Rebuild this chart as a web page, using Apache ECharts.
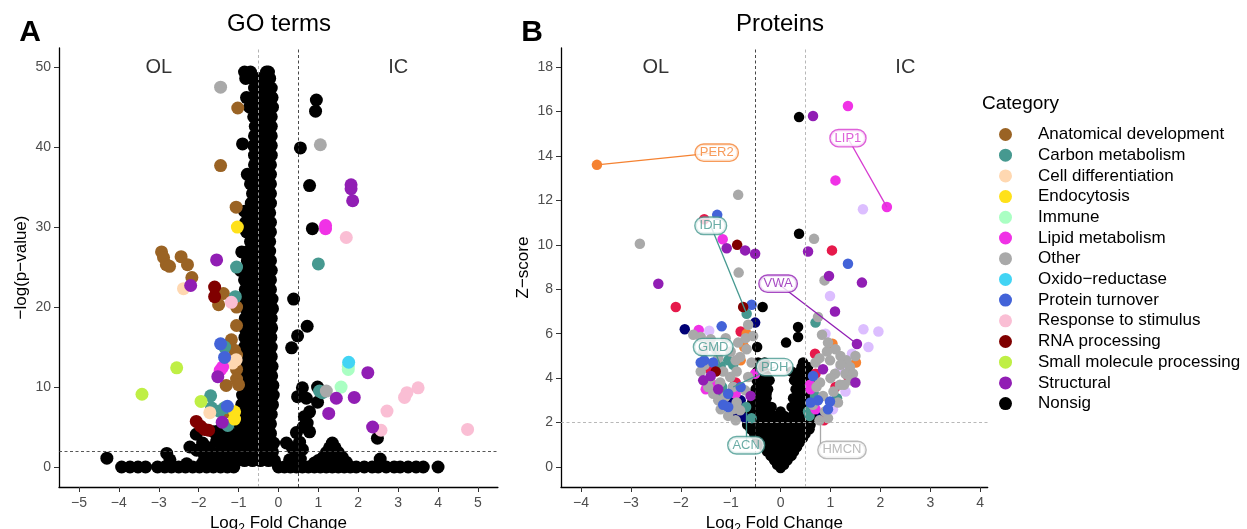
<!DOCTYPE html>
<html>
<head>
<meta charset="utf-8">
<title>GO terms and proteins volcano plots</title>
<script src="https://cdn.jsdelivr.net/npm/echarts@6/dist/echarts.min.js"></script>
<style>
  html, body { margin: 0; padding: 0; background: #fff; }
  #chart { width: 1247px; height: 529px; }
</style>
</head>
<body>
<div id="chart"></div>
<script>
const FONT = '"Liberation Sans", Arial, sans-serif'
const MINUS = '\u2212'

const categories = [
  'Anatomical development', 'Carbon metabolism', 'Cell differentiation', 'Endocytosis',
  'Immune', 'Lipid metabolism', 'Other', 'Oxido' + MINUS + 'reductase', 'Protein turnover',
  'Response to stimulus', 'RNA processing', 'Small molecule processing', 'Structural', 'Nonsig',
]
const categoryColors = [
  '#9a6324', '#469990', '#ffd8b1', '#ffe119', '#aaffc3', '#f032e6', '#a9a9a9',
  '#42d4f4', '#4363d8', '#fabed4', '#800000', '#bfef45', '#911eb4', '#000000',
]
// groups that only occur in the protein panel (not listed in the legend)
const extraNames = ['Navy', 'Red', 'Orange', 'Lavender']
const extraColors = ['#000075', '#e6194b', '#f58231', '#dcbeff']

const goTicksX = [-5, -4, -3, -2, -1, 0, 1, 2, 3, 4, 5]
const goTicksY = [0, 10, 20, 30, 40, 50]
const protTicksX = [-4, -3, -2, -1, 0, 1, 2, 3, 4]
const protTicksY = [0, 2, 4, 6, 8, 10, 12, 14, 16, 18]

// ---- panel A: GO terms, [log2FC, -log(p)] ----
const goNonsig = [
  [-1.05,0.8],[-0.85,0.8],[-0.65,0.8],[-0.45,0.8],[-0.25,0.8],[-0.1,0.8],
  [-1.1,1.9],[-0.9,1.9],[-0.7,1.9],[-0.5,1.9],[-0.3,1.9],[-0.15,1.9],
  [-1.05,3.0],[-0.85,3.0],[-0.65,3.0],[-0.45,3.0],[-0.25,3.0],[-0.12,3.0],
  [-1.0,4.2],[-0.8,4.2],[-0.6,4.2],[-0.4,4.2],[-0.2,4.2],
  [-0.98,5.4],[-0.78,5.4],[-0.58,5.4],[-0.38,5.4],[-0.2,5.4],
  [-0.95,6.6],[-0.75,6.6],[-0.55,6.6],[-0.35,6.6],[-0.18,6.6],
  [-0.92,7.8],[-0.72,7.8],[-0.52,7.8],[-0.32,7.8],[-0.15,7.8],
  [-0.9,9.0],[-0.7,9.0],[-0.5,9.0],[-0.3,9.0],[-0.13,9.0],
  [-0.92,10.2],[-0.72,10.2],[-0.52,10.2],[-0.32,10.2],[-0.14,10.2],
  [-0.88,11.4],[-0.68,11.4],[-0.48,11.4],[-0.3,11.4],[-0.17,11.4],
  [-0.85,12.6],[-0.66,12.6],[-0.46,12.6],[-0.28,12.6],[-0.16,12.6],
  [-0.86,13.8],[-0.68,13.8],[-0.5,13.8],[-0.32,13.8],[-0.18,13.8],
  [-0.85,15.0],[-0.66,15.0],[-0.46,15.0],[-0.28,15.0],[-0.18,15.0],
  [-0.84,16.2],[-0.65,16.2],[-0.45,16.2],[-0.27,16.2],[-0.19,16.2],
  [-0.85,17.4],[-0.66,17.4],[-0.47,17.4],[-0.29,17.4],[-0.17,17.4],
  [-0.83,18.6],[-0.64,18.6],[-0.45,18.6],[-0.27,18.6],[-0.18,18.6],
  [-0.82,19.8],[-0.63,19.8],[-0.44,19.8],[-0.26,19.8],[-0.15,19.8],
  [-0.84,21.0],[-0.65,21.0],[-0.46,21.0],[-0.28,21.0],[-0.16,21.0],
  [-0.83,22.2],[-0.64,22.2],[-0.45,22.2],[-0.27,22.2],[-0.2,22.2],
  [-0.85,23.4],[-0.66,23.4],[-0.47,23.4],[-0.29,23.4],[-0.2,23.4],
  [-0.82,24.6],[-0.63,24.6],[-0.44,24.6],[-0.26,24.6],[-0.18,24.6],
  [-0.78,25.8],[-0.6,25.8],[-0.42,25.8],[-0.25,25.8],[-0.2,25.8],
  [-0.75,27.0],[-0.58,27.0],[-0.4,27.0],[-0.22,27.0],
  [-0.7,28.2],[-0.52,28.2],[-0.36,28.2],[-0.22,28.2],
  [-0.8,29.4],[-0.62,29.4],[-0.45,29.4],[-0.28,29.4],[-0.2,29.4],
  [-0.82,30.6],[-0.64,30.6],[-0.46,30.6],[-0.3,30.6],[-0.2,30.6],
  [-0.72,31.8],[-0.55,31.8],[-0.38,31.8],[-0.22,31.8],
  [-0.68,33.0],[-0.5,33.0],[-0.33,33.0],[-0.2,33.0],
  [-0.65,34.2],[-0.48,34.2],[-0.32,34.2],[-0.2,34.2],
  [-0.7,35.4],[-0.52,35.4],[-0.36,35.4],[-0.2,35.4],
  [-0.62,36.6],[-0.45,36.6],[-0.3,36.6],[-0.2,36.6],
  [-0.6,37.8],[-0.44,37.8],[-0.3,37.8],[-0.2,37.8],
  [-0.6,39.0],[-0.45,39.0],[-0.3,39.0],[-0.18,39.0],
  [-0.62,40.2],[-0.46,40.2],[-0.3,40.2],[-0.18,40.2],
  [-0.6,41.4],[-0.44,41.4],[-0.28,41.4],[-0.18,41.4],
  [-0.58,42.6],[-0.42,42.6],[-0.28,42.6],[-0.18,42.6],
  [-0.62,43.8],[-0.46,43.8],[-0.3,43.8],[-0.18,43.8],
  [-0.72,45.0],[-0.55,45.0],[-0.38,45.0],[-0.22,45.0],[-0.15,45.0],
  [-0.8,46.2],[-0.62,46.2],[-0.45,46.2],[-0.28,46.2],[-0.16,46.2],
  [-0.6,47.4],[-0.45,47.4],[-0.28,47.4],[-0.18,47.4],
  [-0.82,48.6],[-0.66,48.6],[-0.5,48.6],[-0.32,48.6],[-0.22,48.6],
  [-0.85,49.4],[-0.7,49.4],[-0.3,49.4],[-0.25,49.4],
  [-0.9,40.4],[-0.78,36.6],[-0.85,32.0],[-0.92,26.9],[-0.95,24.6],
  // zero row and low fan, left
  [-4.3,1.1],[-3.93,0],[-3.72,0],[-3.52,0],[-3.33,0],
  [-3.03,0],[-2.85,0],[-2.68,0],[-2.5,0],[-2.33,0],[-2.15,0],[-1.98,0],[-1.8,0],
  [-1.63,0],[-1.45,0],[-1.28,0],[-1.12,0],
  [-2.8,1.7],[-2.72,0.9],[-2.22,2.5],[-2.05,2.1],[-2.06,4.1],[-1.9,3.0],[-1.75,2.4],
  [-1.62,4.4],[-1.48,4.6],[-1.4,3.9],[-1.55,3.2],[-1.35,2.8],[-1.2,3.6],[-1.25,4.6],
  [-1.85,1.3],[-1.65,1.0],[-1.5,1.8],[-1.3,1.4],[-1.15,2.2],[-1.6,0.6],[-1.4,0.7],
  [-1.2,0.8],[-1.9,0.5],[-2.3,0.4],
  // right side
  [0.0,0],[0.15,0],[0.3,0],[0.45,0],[0.6,0],[0.75,0],[0.9,0],[1.05,0],[1.2,0],[1.35,0],
  [1.5,0],[1.65,0],[1.8,0],[1.95,0],[2.15,0],[2.35,0],[2.5,0],[2.7,0],[2.9,0],[3.05,0],
  [3.25,0],[3.45,0],[3.63,0],[4.0,0],
  [0.55,39.9],[0.95,45.9],[0.93,44.5],[0.78,35.2],[0.85,29.8],[0.38,21.0],[0.72,17.6],
  [0.48,16.4],[0.33,14.9],
  [0.6,9.9],[0.48,8.8],[0.7,8.6],[0.78,6.9],[0.65,6.3],[0.72,5.5],[0.45,4.3],[0.78,4.4],
  [0.2,3.0],[0.35,2.4],[0.53,3.1],[0.45,1.5],[0.28,0.9],[0.55,1.0],[0.6,2.2],[0.62,5.0],
  [0.98,10.0],[0.98,8.1],
  [1.35,3.0],[1.28,2.4],[1.42,2.4],[1.2,1.8],[1.5,1.8],[1.12,1.2],[1.35,1.4],[1.6,1.2],
  [1.0,0.8],[1.25,0.7],[1.5,0.7],[1.7,0.6],[0.9,0.5],
  [2.48,3.6],[2.55,1.0],
]
const goAnatomical = [
  [-1.02,44.9],[-1.45,37.7],[-1.06,32.5],[-2.93,26.9],[-2.88,26.2],[-2.44,26.3],
  [-2.81,25.3],[-2.73,25.1],[-2.28,25.3],[-2.17,23.7],[-1.38,21.7],[-1.5,20.3],
  [-1.05,20.0],[-1.05,17.7],[-1.18,15.9],[-1.1,14.6],[-1.05,14.0],[-1.05,12.2],
  [-1.05,11.0],[-1.0,10.3],[-1.31,10.2],[-1.31,6.9],
]
const goCarbon = [
  [-1.05,25.0],[1.0,25.4],[-1.08,21.3],[-1.35,15.0],[-1.7,8.9],[-1.68,7.4],
  [-1.48,7.0],[-1.35,7.4],[-1.27,5.2],[1.03,9.5],[1.1,9.3],
]
const goCellDiff = [[-2.38,22.3],[-1.06,13.4],[-1.15,13.0],[-1.72,6.8]]
const goEndocytosis = [[-1.03,30.0],[-1.1,6.9],[-1.1,6.0]]
const goImmune = [[1.75,12.6],[1.75,12.2],[1.57,10.0]]
const goLipid = [[1.18,29.8],[1.18,30.2],[-1.4,12.5],[-1.46,12.1]]
const goOther = [[-1.45,47.5],[1.05,40.3],[1.2,9.5]]
const goOxido = [[1.76,13.1]]
const goProtein = [[-1.45,15.4],[-1.35,13.7],[-1.28,7.6]]
const goResponse = [
  [-1.18,20.6],[1.7,28.7],[2.57,4.6],[2.72,7.0],[3.16,8.7],[3.22,9.3],[3.5,9.9],[4.74,4.7],
]
const goRNA = [[-1.6,22.5],[-1.6,21.3],[-2.06,5.7],[-1.95,5.1],[-1.85,4.7],[-1.75,4.6]]
const goSmallMol = [[-2.55,12.4],[-3.42,9.1],[-1.94,8.2]]
const goStructural = [
  [1.82,35.3],[1.82,34.8],[1.86,33.3],[-1.55,25.9],[-2.2,22.7],[-1.52,11.3],[-1.41,5.6],
  [2.24,11.8],[1.45,8.6],[1.9,8.7],[1.26,6.7],[2.36,5.0],
]

// ---- panel B: proteins, [log2FC, Z-score] ----
const protNonsig = [
  [0,-0.05],[-0.07,0.1],[0.07,0.1],
  [-0.13,0.3],[0.0,0.3],[0.14,0.3],
  [-0.2,0.5],[-0.05,0.5],[0.1,0.5],[0.22,0.5],
  [-0.27,0.7],[-0.12,0.7],[0.03,0.7],[0.16,0.7],[0.27,0.7],
  [-0.33,0.9],[-0.18,0.9],[-0.03,0.9],[0.12,0.9],[0.25,0.9],[0.33,0.9],
  [-0.4,1.1],[-0.25,1.1],[-0.1,1.1],[0.05,1.1],[0.2,1.1],[0.38,1.1],
  [-0.47,1.3],[-0.32,1.3],[-0.16,1.3],[0.0,1.3],[0.15,1.3],[0.32,1.3],[0.45,1.3],
  [-0.53,1.5],[-0.38,1.5],[-0.22,1.5],[-0.06,1.5],[0.1,1.5],[0.26,1.5],[0.42,1.5],[0.5,1.5],
  [-0.6,1.7],[-0.44,1.7],[-0.28,1.7],[-0.12,1.7],[0.04,1.7],[0.2,1.7],[0.36,1.7],[0.52,1.7],[0.58,1.7],
  [-0.67,1.9],[-0.5,1.9],[-0.34,1.9],[-0.18,1.9],[-0.02,1.9],[0.14,1.9],[0.3,1.9],[0.46,1.9],[0.6,1.9],
  [-0.68,2.1],[-0.52,2.1],[-0.36,2.1],[-0.2,2.1],[-0.04,2.1],[0.12,2.1],[0.28,2.1],[0.44,2.1],[0.6,2.1],
  [-0.7,2.3],[-0.55,2.3],[-0.4,2.3],[-0.25,2.3],[-0.1,2.3],[0.08,2.3],[0.24,2.3],[0.4,2.3],[0.55,2.3],[0.66,2.3],
  [-0.65,2.5],[-0.5,2.5],[-0.36,2.5],[-0.22,2.5],[0.0,2.5],[0.28,2.5],[0.44,2.5],[0.6,2.5],
  [-0.6,2.7],[-0.45,2.7],[-0.3,2.7],[-0.18,2.7],[0.22,2.7],[0.36,2.7],[0.52,2.7],[0.66,2.7],
  [-0.57,2.9],[-0.42,2.9],[-0.3,2.9],[0.3,2.9],[0.46,2.9],[0.62,2.9],
  [-0.55,3.1],[-0.42,3.1],[-0.28,3.1],[0.25,3.1],[0.4,3.1],[0.56,3.1],
  [-0.52,3.3],[-0.38,3.3],[-0.28,3.3],[0.34,3.3],[0.5,3.3],
  [-0.5,3.5],[-0.38,3.5],[-0.25,3.5],[0.3,3.5],[0.45,3.5],[0.6,3.5],
  [-0.45,3.7],[-0.32,3.7],[0.36,3.7],[0.5,3.7],
  [-0.48,3.9],[-0.35,3.9],[-0.22,3.9],[0.27,3.9],[0.42,3.9],[0.58,3.9],
  [-0.44,4.1],[-0.28,4.1],[0.32,4.1],[0.46,4.1],
  [-0.47,4.3],[-0.33,4.3],[0.22,4.3],[0.38,4.3],[0.52,4.3],
  [-0.4,4.5],[0.42,4.5],[0.55,4.5],
  [-0.45,4.7],[-0.32,4.7],[0.45,4.7],
  [-0.47,5.4],[0.11,5.6],[0.35,6.3],[0.35,5.85],[-0.36,7.2],[0.37,10.5],[0.37,15.75],
]
const protStructural = [
  [0.65,15.8],[-1.08,9.85],[-0.71,9.75],[-0.51,9.6],[0.55,9.7],[0.97,8.6],[1.63,8.3],
  [1.09,7.0],[-2.45,8.25],[1.53,5.54],[-1.4,4.1],[0.85,4.4],[-1.55,3.9],[-1.25,3.5],
  [-0.6,3.2],[1.5,3.8],
]
const protLipid = [
  [1.35,16.25],[1.1,12.9],[2.13,11.7],[-1.16,10.25],[-1.64,6.17],[-0.51,4.2],[0.59,3.7],
  [0.6,3.5],[-1.35,3.7],[-1.5,3.5],[-0.9,3.3],[0.7,2.6],
]
const protOther = [
  [-0.85,12.25],[-2.82,10.05],[0.67,10.27],[0.88,8.4],[-0.84,8.75],[0.75,6.75],[0.83,5.95],
  [-1.75,5.95],[-1.6,5.85],[-1.4,5.75],[-1.1,5.8],[-0.65,6.4],
  [0.93,5.2],[0.99,4.8],[1.09,4.2],[1.32,4.8],[1.39,4.5],[0.79,3.8],[0.85,3.2],[1.06,3.4],
  [1.19,3.7],[1.27,3.7],[0.89,2.5],[1.2,5.0],[1.0,4.0],
  [1.2,4.6],[1.3,4.2],[1.45,4.2],[0.7,4.7],[0.78,4.9],[0.72,3.6],[1.15,2.9],[0.95,2.2],
  [0.65,2.8],[1.4,3.9],[1.1,5.3],[0.95,5.6],[1.5,5.0],
  [-1.52,4.6],[-1.41,4.0],[-1.21,3.8],[-1.01,4.05],[-0.88,4.3],[-0.81,4.95],[-0.68,5.3],
  [-0.58,4.7],[-0.65,4.05],[-0.71,3.45],[-0.95,3.6],[-1.11,3.15],[-0.88,2.9],[-0.81,2.55],
  [-1.25,3.0],[-0.95,2.6],[0.78,2.1],
  [-1.45,5.5],[-1.3,5.3],[-1.55,5.2],[-1.25,4.9],[-1.6,4.3],[-1.45,3.6],[-1.35,3.3],
  [-1.2,2.6],[-1.05,2.3],[-0.9,2.1],[-1.15,4.3],[-0.9,4.8],[-1.0,5.2],[-0.85,5.6],
  [-0.7,5.8],[-0.55,5.9],
]
const protCarbon = [
  [-0.68,6.9],[-1.2,4.55],[-0.95,3.6],[-0.69,2.7],[0.7,6.5],[-1.17,3.6],[-1.1,3.2],
  [-0.58,2.2],[0.69,3.2],[1.13,3.1],[0.55,2.5],[-1.05,4.8],[-0.95,4.6],[0.58,2.3],[-1.3,3.3],
  [0.6,2.6],
]
const protProtein = [
  [-1.27,11.35],[1.35,9.15],[-1.18,6.33],[-0.58,7.3],[-1.53,4.8],[0.99,2.95],[-1.05,2.7],
  [-0.8,3.6],[0.65,4.1],[-1.35,4.7],[-1.6,4.7],[-1.05,3.3],[-1.15,2.8],[0.75,3.0],
  [0.95,2.6],[0.6,2.9],
]
const protRNA = [[-0.87,10.0],[-0.75,7.2],[-1.3,4.3]]
const protNavy = [
  [-1.92,6.2],[-0.51,6.5],[-0.98,3.1],[-0.8,3.0],[-0.8,2.3],[0.82,2.25],[-0.9,2.5],
  [-1.1,2.9],[-0.7,2.2],[-0.95,2.4],
]
const protRed = [
  [-1.53,11.15],[1.03,9.75],[-2.1,7.2],[-0.8,6.1],[0.69,5.1],[1.35,4.1],[0.87,2.1],
  [-1.25,4.4],[-1.45,4.45],[-0.9,3.8],[1.1,3.6],[0.7,4.2],
]
const protOrange = [[-3.68,13.6],[-0.68,6.0],[-0.73,5.4],[1.04,5.55],[1.51,4.7],[-0.8,4.8]]
const protLavender = [
  [1.65,11.6],[0.99,7.7],[1.66,6.2],[1.96,6.1],[1.76,5.4],[1.43,5.1],[-1.43,6.13],[1.2,4.4],
  [1.3,3.4],[1.05,2.6],[0.9,6.0],
]

// labelled proteins
const protLabels = ['PER2', 'LIP1', 'IDH', 'VWA', 'GMD', 'PDH', 'ACN', 'HMCN']
const protLabelColors = ['#f58231', '#d63ad0', '#469990', '#911eb4', '#469990', '#469990', '#469990', '#a9a9a9']
const protLabelPoint = [[-3.68,13.6],[2.13,11.7],[-0.68,6.9],[1.53,5.54],[-1.2,4.55],[-0.95,3.6],[-0.69,2.7],[0.79,2.1]]
const protLabelAt = [[-1.28,14.15],[1.35,14.8],[-1.4,10.86],[-0.05,8.25],[-1.35,5.4],[-0.12,4.5],[-0.69,0.98],[1.23,0.77]]
const protSegmentEnd = [[-1.28,14.15],[1.35,14.8],[-1.4,10.86],[-0.05,8.25],[-1.35,5.4],[-0.12,4.5],[-0.69,0.98],[0.79,0.85]]

const goByCategory = [
  goAnatomical, goCarbon, goCellDiff, goEndocytosis, goImmune, goLipid, goOther,
  goOxido, goProtein, goResponse, goRNA, goSmallMol, goStructural,
]
const protByCategory = [
  [], protCarbon, [], [], [], protLipid, protOther, [], protProtein, [], protRNA, [], protStructural,
]
const protExtras = [protNavy, protRed, protOrange, protLavender]

const minus = (v) => String(v).replace('-', MINUS)

function points(name, data, panel, color) {
  return {
    type: 'scatter',
    name,
    xAxisIndex: panel,
    yAxisIndex: panel,
    data,
    symbolSize: panel === 0 ? 13 : 10.5,
    itemStyle: { color, opacity: 1 },
    z: 3,
    silent: true,
  }
}

function guides(panel, lines) {
  return {
    type: 'scatter',
    name: 'guides' + panel,
    xAxisIndex: panel,
    yAxisIndex: panel,
    data: [],
    z: 1,
    markLine: {
      silent: true,
      symbol: 'none',
      label: { show: false },
      animation: false,
      data: lines.map(([key, value, color]) => ({
        [key]: value,
        lineStyle: { color, type: [3, 2.5], width: 0.9 },
      })),
    },
  }
}

function sideText(panel, pos, text) {
  return {
    type: 'scatter',
    name: 'side' + panel + text,
    xAxisIndex: panel,
    yAxisIndex: panel,
    data: [pos],
    symbolSize: 0.1,
    itemStyle: { color: 'transparent' },
    silent: true,
    label: {
      show: true, position: 'inside', formatter: text,
      color: '#000', fontSize: 20, fontFamily: FONT,
    },
  }
}

function xAxis(panel, min, max, ticks) {
  return {
    type: 'value', gridIndex: panel, min, max,
    name: '{a|Log}{s|2}{a| Fold Change}',
    nameLocation: 'middle', nameGap: 23,
    nameTextStyle: {
      rich: {
        a: { fontSize: 17, fontFamily: FONT, color: '#000' },
        s: { fontSize: 12, fontFamily: FONT, color: '#000', padding: [10, 0, 0, 0] },
      },
    },
    axisLine: { show: true, onZero: false, lineStyle: { color: '#000', width: 1.3 } },
    axisTick: { show: true, customValues: ticks, length: 5, lineStyle: { color: '#333' } },
    axisLabel: { customValues: ticks, formatter: minus, margin: 9, fontSize: 14, color: '#4d4d4d', fontFamily: FONT },
    splitLine: { show: false },
  }
}

function yAxis(panel, min, max, ticks, name) {
  return {
    type: 'value', gridIndex: panel, min, max, name,
    nameLocation: 'middle', nameGap: 29, nameRotate: 90,
    nameTextStyle: { fontSize: 17, fontFamily: FONT, color: '#000' },
    axisLine: { show: true, onZero: false, lineStyle: { color: '#000', width: 1.3 } },
    axisTick: { show: true, customValues: ticks, length: 5, lineStyle: { color: '#333' } },
    axisLabel: { customValues: ticks, formatter: minus, margin: 8, fontSize: 14, color: '#4d4d4d', fontFamily: FONT },
    splitLine: { show: false },
  }
}

const series = [
  guides(0, [['xAxis', -0.5, '#aaaaaa'], ['xAxis', 0.5, '#333333'], ['yAxis', 2, '#444444']]),
  guides(1, [['xAxis', -0.5, '#333333'], ['xAxis', 0.5, '#b0b0b0'], ['yAxis', 2, '#b0b0b0']]),
  points('Nonsig', goNonsig, 0, '#000'),
  points('Nonsig', protNonsig, 1, '#000'),
]
protExtras.forEach((data, i) => series.push(points(extraNames[i], data, 1, extraColors[i])))
goByCategory.forEach((data, i) => series.push(points(categories[i], data, 0, categoryColors[i])))
protByCategory.forEach((data, i) => series.push(points(categories[i], data, 1, categoryColors[i])))

series.push(
  sideText(0, [-3, 50], 'OL'), sideText(0, [3, 50], 'IC'),
  sideText(1, [-2.5, 18], 'OL'), sideText(1, [2.5, 18], 'IC'),
)

series.push({
  type: 'lines',
  name: 'segments',
  coordinateSystem: 'cartesian2d',
  xAxisIndex: 1,
  yAxisIndex: 1,
  silent: true,
  z: 4,
  data: protLabels.map((name, i) => ({
    coords: [protLabelPoint[i], protSegmentEnd[i]],
    lineStyle: { color: protLabelColors[i], width: 1.3, opacity: 1 },
  })),
})

series.push({
  type: 'scatter',
  name: 'labels',
  xAxisIndex: 1,
  yAxisIndex: 1,
  symbolSize: 0.1,
  itemStyle: { color: 'transparent' },
  silent: true,
  z: 5,
  data: protLabels.map((name, i) => ({
    name,
    value: protLabelAt[i],
    label: {
      show: true, position: 'inside', formatter: name,
      color: protLabelColors[i], borderColor: protLabelColors[i],
      backgroundColor: '#fff', borderWidth: 1.4, borderRadius: 8,
      padding: [2, 4, 1, 4], fontSize: 13, fontFamily: FONT,
    },
  })),
})

const chart = echarts.init(document.getElementById('chart'))
chart.setOption({
  backgroundColor: '#fff',
  animation: false,
  textStyle: { fontFamily: FONT },
  grid: [
    { left: 59, top: 48, width: 438.9, height: 439, containLabel: false, outerBoundsMode: 'none' },
    { left: 561, top: 48, width: 426.7, height: 439, containLabel: false, outerBoundsMode: 'none' },
  ],
  xAxis: [xAxis(0, -5.5, 5.5, goTicksX), xAxis(1, -4.4, 4.15, protTicksX)],
  yAxis: [
    yAxis(0, -2.5, 52.4, goTicksY, MINUS + 'log(p' + MINUS + 'value)'),
    yAxis(1, -0.9, 18.86, protTicksY, 'Z' + MINUS + 'score'),
  ],
  legend: {
    data: categories,
    orient: 'vertical',
    left: 994,
    top: 121,
    icon: 'circle',
    itemWidth: 13,
    itemHeight: 13,
    itemGap: 3.7,
    selectedMode: false,
    textStyle: { fontSize: 17, lineHeight: 13, color: '#000', fontFamily: FONT, padding: [0, 0, 0, 21] },
  },
  graphic: [
    { type: 'text', x: 279, y: 24, style: { text: 'GO terms', fontSize: 24, fontFamily: FONT, fill: '#000', align: 'center', verticalAlign: 'middle' } },
    { type: 'text', x: 780, y: 24, style: { text: 'Proteins', fontSize: 24, fontFamily: FONT, fill: '#000', align: 'center', verticalAlign: 'middle' } },
    { type: 'text', x: 30, y: 33, style: { text: 'A', fontSize: 30, fontWeight: 'bold', fontFamily: FONT, fill: '#000', align: 'center', verticalAlign: 'middle' } },
    { type: 'text', x: 532, y: 33, style: { text: 'B', fontSize: 30, fontWeight: 'bold', fontFamily: FONT, fill: '#000', align: 'center', verticalAlign: 'middle' } },
    { type: 'text', x: 982, y: 104, style: { text: 'Category', fontSize: 19, fontFamily: FONT, fill: '#000', align: 'left', verticalAlign: 'middle' } },
  ],
  series,
})
window.addEventListener('resize', () => chart.resize())
</script>
</body>
</html>
